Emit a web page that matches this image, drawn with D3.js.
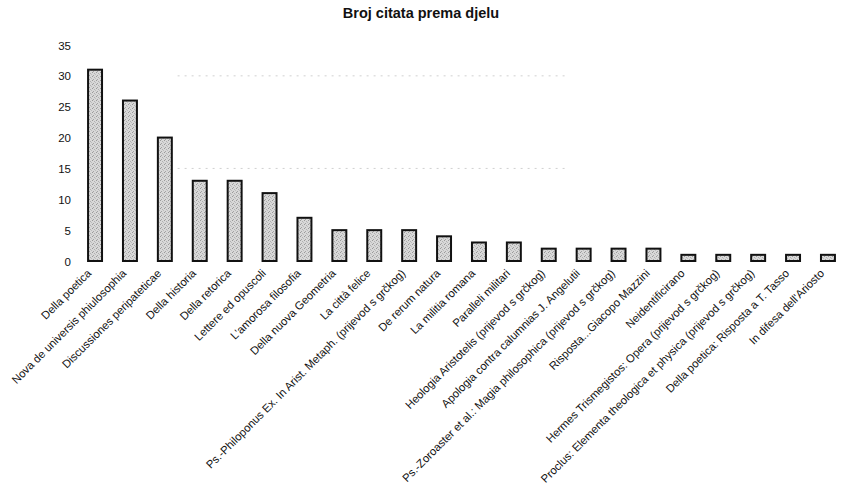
<!doctype html>
<html lang="hr">
<head>
<meta charset="utf-8">
<title>Broj citata prema djelu</title>
<script src="https://d3js.org/d3.v7.min.js"></script>
<style>
  body { margin: 0; background: #fff; }
  text { font-family: "Liberation Sans", Arial, sans-serif; fill: #111; }
  .title { font-size: 14.5px; font-weight: bold; }
  .ytick text { font-size: 11.5px; }
  .xlab { font-size: 11.3px; }
</style>
</head>
<body>
<div id="chart"></div>
<script>
var works = [
  "Della poetica",
  "Nova de universis phiulosophia",
  "Discussiones peripateticae",
  "Della historia",
  "Della retorica",
  "Lettere ed opuscoli",
  "L'amorosa filosofia",
  "Della nuova Geometria",
  "La città felice",
  "Ps.-Philoponus Ex. In Arist. Metaph. (prijevod s grčkog)",
  "De rerum natura",
  "La militia romana",
  "Paralleli militari",
  "Heologia Aristotelis (prijevod s grčkog)",
  "Apologia contra calumnias J. Angelutii",
  "Ps.-Zoroaster et al.: Magia philosophica (prijevod s grčkog)",
  "Risposta...Giacopo Mazzini",
  "Neidentificirano",
  "Hermes Trismegistos: Opera (prijevod s grčkog)",
  "Proclus: Elementa theologica et physica (prijevod s grčkog)",
  "Della poetica: Risposta a T. Tasso",
  "In difesa dell'Ariosto"
];
var citations = [31, 26, 20, 13, 13, 11, 7, 5, 5, 5, 4, 3, 3, 2, 2, 2, 2, 1, 1, 1, 1, 1];
var yTicks = [0, 5, 10, 15, 20, 25, 30, 35];
var gridVals = [15, 30];

var width = 841, height = 497;

var svg = d3.select("#chart").append("svg")
  .attr("width", width)
  .attr("height", height);

// stippled fill like the printed original
var defs = svg.append("defs");
var pat = defs.append("pattern")
  .attr("id", "stipple")
  .attr("width", 4).attr("height", 4)
  .attr("patternUnits", "userSpaceOnUse");
pat.append("rect").attr("width", 4).attr("height", 4).attr("fill", "#d8d8d8");
[[0, 0, "#9a9a9a"], [2, 1, "#b0b0b0"], [1, 3, "#a4a4a4"], [3, 2, "#bcbcbc"]].forEach(function(p) {
  pat.append("rect").attr("x", p[0]).attr("y", p[1]).attr("width", 1).attr("height", 1).attr("fill", p[2]);
});

var x = d3.scaleBand()
  .domain(works)
  .range([77.6, 77.6 + 22 * 34.9])
  .paddingInner(0.6)
  .paddingOuter(0.3);

var y = d3.scaleLinear()
  .domain([0, 35])
  .range([261, 45]);

svg.append("text")
  .attr("class", "title")
  .attr("x", 421)
  .attr("y", 18)
  .attr("text-anchor", "middle")
  .text("Broj citata prema djelu");

// faint dotted gridlines (what survives of them in the scan)
svg.append("g").selectAll("line")
  .data(gridVals)
  .join("line")
  .attr("x1", x.range()[0] + 100)
  .attr("x2", x.range()[1] - 280)
  .attr("y1", function(d) { return y(d); })
  .attr("y2", function(d) { return y(d); })
  .attr("stroke", "#d0d0d0")
  .attr("stroke-width", 1)
  .attr("stroke-dasharray", "2,5");

var yAxis = svg.append("g")
  .attr("class", "ytick")
  .attr("transform", "translate(71,0)")
  .call(d3.axisLeft(y).tickValues(yTicks).tickSize(0).tickPadding(0));
yAxis.select(".domain").remove();
yAxis.selectAll("text").attr("dy", "0.35em");

svg.append("g").selectAll("rect")
  .data(citations)
  .join("rect")
  .attr("x", function(d, i) { return x(works[i]); })
  .attr("y", function(d) { return y(d); })
  .attr("width", x.bandwidth())
  .attr("height", function(d) { return y(0) - y(d); })
  .attr("fill", "url(#stipple)")
  .attr("stroke", "#111")
  .attr("stroke-width", 2);

svg.append("g").selectAll("text")
  .data(works)
  .join("text")
  .attr("class", "xlab")
  .attr("text-anchor", "end")
  .attr("transform", function(d) {
    return "translate(" + (x(d) + x.bandwidth() / 2 - 3) + ",274) rotate(-45)";
  })
  .text(function(d) { return d; });
</script>
</body>
</html>
